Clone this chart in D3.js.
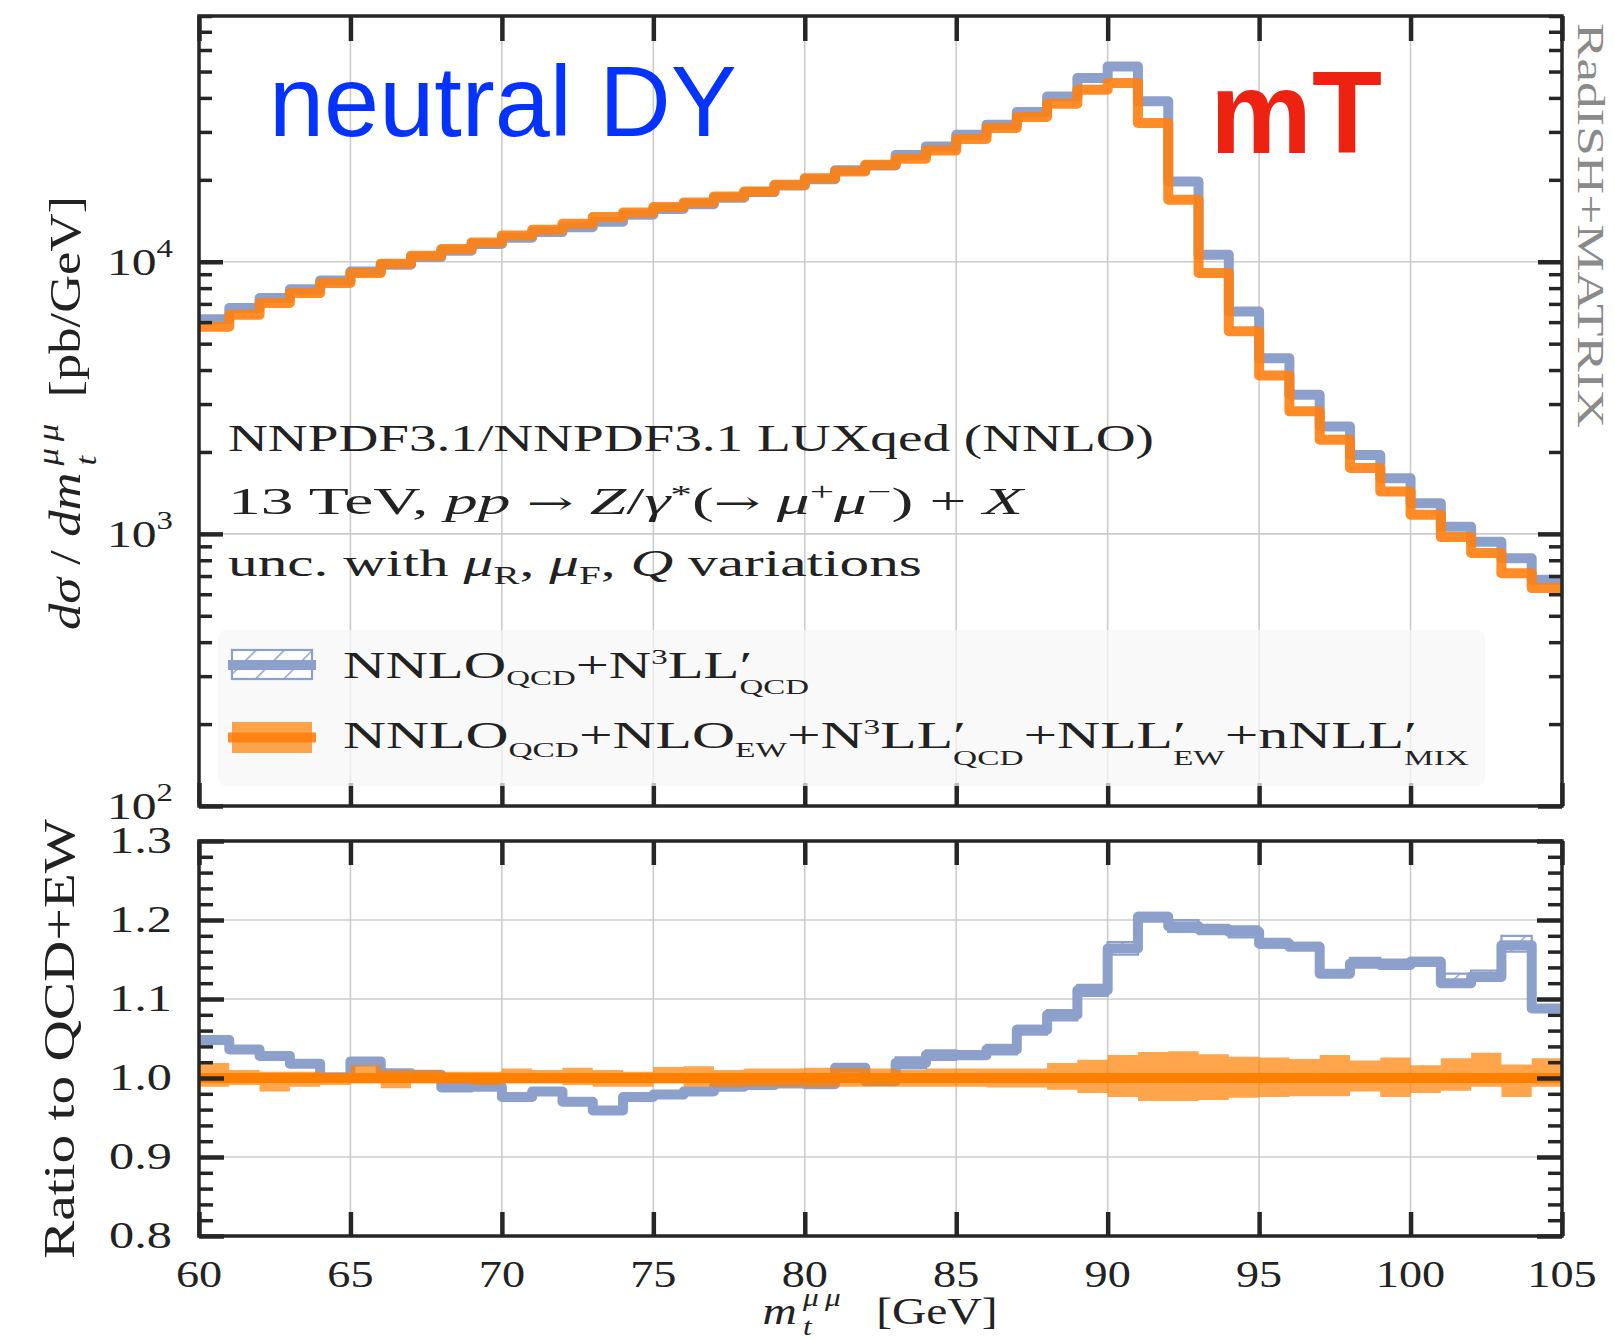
<!DOCTYPE html>
<html><head><meta charset="utf-8">
<script src="https://cdn.jsdelivr.net/npm/d3@7"></script>
<style>body{margin:0;background:#fff} svg{display:block} text{white-space:pre}</style>
</head><body><svg id="c" width="1615" height="1340"></svg>
<script>
// ---------------- data ----------------
const massEdges = [60,61,62,63,64,65,66,67,68,69,70,71,72,73,74,75,76,77,78,79,80,81,82,83,84,85,86,87,88,89,90,91,92,93,94,95,96,97,98,99,100,101,102,103,104,105];
// d sigma / d m_t  [pb/GeV], NNLO_QCD+N3LL'_QCD
const sigmaQCD = [6150,6760,7360,7930,8540,9200,9750,10400,10970,11620,12250,12850,13390,14020,14880,15640,16260,17200,18030,19070,20100,21670,22600,24700,26540,29300,31900,35500,40500,47350,52200,38900,19700,10600,6570,4420,3245,2480,1950,1600,1295,1062,936,813,678];
// QCD+EW
const sigmaQCDEW = [5770,6380,7050,7670,8350,9090,9840,10530,11130,11780,12500,13110,13800,14600,15180,15880,16510,17370,18120,19170,20290,21460,22700,23900,25650,28250,31040,34060,38100,42850,45360,32380,16900,9090,5550,3820,2820,2220,1745,1432,1175,973,850,717,632];
// ratio to QCD+EW
const ratioQCD = [1.048,1.036,1.028,1.018,1.001,1.021,1.006,1.004,0.988,0.989,0.976,0.983,0.970,0.959,0.976,0.979,0.983,0.989,0.991,0.993,0.992,1.013,0.996,1.019,1.029,1.029,1.036,1.061,1.080,1.111,1.164,1.204,1.192,1.188,1.185,1.170,1.166,1.132,1.145,1.143,1.147,1.120,1.128,1.168,1.088];
const ratioQCDLo = [1.046,1.034,1.026,1.016,0.999,1.019,1.004,1.002,0.986,0.987,0.974,0.981,0.968,0.957,0.974,0.977,0.981,0.987,0.989,0.991,0.990,1.011,0.994,1.012,1.023,1.024,1.030,1.055,1.073,1.104,1.156,1.198,1.185,1.182,1.178,1.165,1.162,1.130,1.140,1.140,1.142,1.118,1.124,1.160,1.085];
const ratioQCDHi = [1.050,1.038,1.030,1.020,1.003,1.023,1.008,1.006,0.990,0.991,0.978,0.985,0.972,0.961,0.978,0.981,0.985,0.991,0.993,0.995,0.994,1.015,0.998,1.026,1.035,1.034,1.042,1.066,1.086,1.118,1.172,1.209,1.200,1.194,1.192,1.176,1.171,1.135,1.152,1.150,1.152,1.132,1.136,1.180,1.092];
const ratioEW = [1,1,1,1,1,1,1,1,1,1,1,1,1,1,1,1,1,1,1,1,1,1,1,1,1,1,1,1,1,1,1,1,1,1,1,1,1,1,1,1,1,1,1,1,1];
const ratioEWHi = [1.019,1.010,1.008,1.008,1.006,1.016,1.010,1.010,1.008,1.008,1.012,1.010,1.013,1.010,1.008,1.014,1.015,1.010,1.012,1.012,1.013,1.013,1.012,1.010,1.012,1.012,1.012,1.012,1.019,1.023,1.029,1.033,1.034,1.030,1.027,1.026,1.024,1.029,1.022,1.026,1.016,1.025,1.032,1.017,1.025];
const ratioEWLo = [0.989,0.991,0.983,0.989,0.991,0.993,0.987,0.993,0.993,0.991,0.993,0.993,0.991,0.989,0.989,0.993,0.989,0.988,0.989,0.989,0.988,0.989,0.989,0.989,0.989,0.989,0.988,0.988,0.985,0.981,0.976,0.971,0.971,0.972,0.975,0.976,0.977,0.977,0.983,0.976,0.981,0.984,0.989,0.976,0.989];
// ticks
const xTicks = [60,65,70,75,80,85,90,95,100,105];
const xTickLabels = ["60","65","70","75","80","85","90","95","100","105"];
const yTopMajor = [100,1000,10000];
const yTopMajorExp = ["2","3","4"];
const yTopMinor = [200,300,400,500,600,700,800,900,2000,3000,4000,5000,6000,7000,8000,9000,20000,30000,40000,50000,60000,70000,80000];
const yRatioMajor = [0.8,0.9,1.0,1.1,1.2,1.3];
const yRatioLabels = ["0.8","0.9","1.0","1.1","1.2","1.3"];
const yRatioMinor = [0.82,0.84,0.86,0.88,0.92,0.94,0.96,0.98,1.02,1.04,1.06,1.08,1.12,1.14,1.16,1.18,1.22,1.24,1.26,1.28];
const yRatioGrid = [0.9,1.0,1.1,1.2];
const xGrid = [65,70,75,80,85,90,95,100];

// ---------------- setup ----------------
const SERIF = "'Liberation Serif','DejaVu Serif',serif";
const SANS = "'Liberation Sans',Arial,sans-serif";
const BLUE = "#8da0cb", ORANGE = "#ff7f0e", ORANGE_R = "#ff7f00", BAND = "#ff7f00";
const FRAME = "#262626", GRID = "#cccccc", TXT = "#222222";
const svg = d3.select('#c');
const L = 199, R = 1562, T1 = 16, B1 = 806, T2 = 841, B2 = 1236;
const x = d3.scaleLinear().domain([60,105]).range([L,R]);
const yT = d3.scaleLog().domain([100,80000]).range([B1,T1]);
const yR = d3.scaleLinear().domain([0.8,1.3]).range([B2,T2]);

const defs = svg.append('defs');
defs.append('clipPath').attr('id','clipTop').append('rect').attr('x',L).attr('y',T1).attr('width',R-L).attr('height',B1-T1);
defs.append('clipPath').attr('id','clipRat').append('rect').attr('x',L).attr('y',T2).attr('width',R-L).attr('height',B2-T2);
function hatch(id, bg){
  const p = defs.append('pattern').attr('id',id).attr('patternUnits','userSpaceOnUse')
    .attr('width',20).attr('height',20).attr('patternTransform','rotate(45)');
  if (bg) p.append('rect').attr('width',20).attr('height',20).attr('fill',bg);
  p.append('line').attr('x1',0).attr('y1',0).attr('x2',0).attr('y2',20).attr('stroke',BLUE).attr('stroke-width',3);
}
hatch('hatchT', null); hatch('hatchW', '#ffffff');

const steps = vals => massEdges.map((e,i)=>({x:e, v: vals[Math.min(i, vals.length-1)]}));
const stepsBand = (lo,hi) => massEdges.map((e,i)=>({x:e, lo: lo[Math.min(i,lo.length-1)], hi: hi[Math.min(i,hi.length-1)]}));

// ---------------- gridlines ----------------
const gTopGrid = svg.append('g');
gTopGrid.selectAll('line.v').data(xGrid).join('line').attr('x1',d=>x(d)).attr('x2',d=>x(d)).attr('y1',T1).attr('y2',B1).attr('stroke',GRID).attr('stroke-width',1.6);
gTopGrid.selectAll('line.h').data([1000,10000]).join('line').attr('class','h').attr('y1',d=>yT(d)).attr('y2',d=>yT(d)).attr('x1',L).attr('x2',R).attr('stroke',GRID).attr('stroke-width',1.6);
const gRGrid = svg.append('g');
gRGrid.selectAll('line.v').data(xGrid).join('line').attr('x1',d=>x(d)).attr('x2',d=>x(d)).attr('y1',T2).attr('y2',B2).attr('stroke',GRID).attr('stroke-width',1.6);
gRGrid.selectAll('line.h').data(yRatioGrid).join('line').attr('class','h').attr('y1',d=>yR(d)).attr('y2',d=>yR(d)).attr('x1',L).attr('x2',R).attr('stroke',GRID).attr('stroke-width',1.6);

// ---------------- top plot lines ----------------
const lineTop = d3.line().x(d=>x(d.x)).y(d=>yT(d.v)).curve(d3.curveStepAfter);
const gTop = svg.append('g').attr('clip-path','url(#clipTop)');
gTop.append('path').attr('d', lineTop(steps(sigmaQCD))).attr('fill','none').attr('stroke',BLUE).attr('stroke-width',10).attr('stroke-linejoin','round');
gTop.append('path').attr('d', lineTop(steps(sigmaQCDEW))).attr('fill','none').attr('stroke',ORANGE).attr('stroke-opacity',0.9).attr('stroke-width',10).attr('stroke-linejoin','round');

// ---------------- ratio plot ----------------
const lineR = d3.line().x(d=>x(d.x)).y(d=>yR(d.v)).curve(d3.curveStepAfter);
const areaR = d3.area().x(d=>x(d.x)).y0(d=>yR(d.lo)).y1(d=>yR(d.hi)).curve(d3.curveStepAfter);
const gR = svg.append('g').attr('clip-path','url(#clipRat)');
gR.append('path').attr('d', lineR(steps(ratioQCD))).attr('fill','none').attr('stroke',BLUE).attr('stroke-width',10).attr('stroke-linejoin','round');
gR.append('path').attr('d', areaR(stepsBand(ratioQCDLo, ratioQCDHi))).attr('fill','url(#hatchT)').attr('stroke',BLUE).attr('stroke-width',2.2);
gR.append('path').attr('d', areaR(stepsBand(ratioEWLo, ratioEWHi))).attr('fill',BAND).attr('fill-opacity',0.7);
gR.append('path').attr('d', lineR(steps(ratioEW))).attr('fill','none').attr('stroke',ORANGE_R).attr('stroke-width',10);

// ---------------- frames & ticks ----------------
function ticks(axisFn, scale, values, size, width, tr){
  const a = axisFn(scale).tickValues(values).tickSize(size).tickFormat('');
  const g = svg.append('g').attr('transform', tr).call(a);
  g.select('.domain').remove();
  g.selectAll('line').attr('stroke',FRAME).attr('stroke-width',width);
  g.selectAll('text').remove();
}
ticks(d3.axisRight, yT, yTopMajor, 24, 4.5, `translate(${L},0)`);
ticks(d3.axisRight, yT, yTopMinor, 13, 3.5, `translate(${L},0)`);
ticks(d3.axisLeft, yT, yTopMajor, 24, 4.5, `translate(${R},0)`);
ticks(d3.axisLeft, yT, yTopMinor, 13, 3.5, `translate(${R},0)`);
ticks(d3.axisBottom, x, xTicks, 25, 4.5, `translate(0,${T1})`);
ticks(d3.axisTop, x, xTicks, 23, 4.5, `translate(0,${B1})`);
ticks(d3.axisRight, yR, yRatioMajor, 25, 4.5, `translate(${L},0)`);
ticks(d3.axisRight, yR, yRatioMinor, 14, 3.5, `translate(${L},0)`);
ticks(d3.axisLeft, yR, yRatioMajor, 25, 4.5, `translate(${R},0)`);
ticks(d3.axisLeft, yR, yRatioMinor, 14, 3.5, `translate(${R},0)`);
ticks(d3.axisBottom, x, xTicks, 24, 4.5, `translate(0,${T2})`);
ticks(d3.axisTop, x, xTicks, 24, 4.5, `translate(0,${B2})`);

svg.append('rect').attr('x',L).attr('y',T1).attr('width',R-L).attr('height',B1-T1).attr('fill','none').attr('stroke',FRAME).attr('stroke-width',3.5);
svg.append('rect').attr('x',L).attr('y',T2).attr('width',R-L).attr('height',B2-T2).attr('fill','none').attr('stroke',FRAME).attr('stroke-width',3.5);

// ---------------- rich text helper ----------------
function rich(o){
  const g = svg.append('g');
  const inner = g.append('g');
  let cx = 0, st = 0, sm = 0;
  o.segs.forEach(s => {
    const fs = o.size*(s.s||1);
    const t = inner.append('text').attr('x', cx).attr('y', -(s.b||0)*o.size)
      .attr('font-size', fs).attr('font-family', s.f||o.family||SERIF).attr('fill', o.color||TXT)
      .attr('xml:space','preserve')
      .style('font-style', s.i?'italic':'normal').style('font-weight', s.w||o.weight||'normal').text(s.t);
    const w = t.node().getComputedTextLength();
    if (s.stack==='first'){ st = cx; sm = w; }
    else if (s.stack==='second'){ cx = st + Math.max(sm, w); }
    else cx += w;
  });
  const total = cx;
  const k = o.width ? o.width/total : (o.sx||1);
  const off = o.anchor==='middle' ? -total*k/2 : o.anchor==='end' ? -total*k : 0;
  inner.attr('transform', `translate(${off},0) scale(${k},${o.ky||1})`);
  g.attr('transform', `translate(${o.x},${o.y}) rotate(${o.rot||0})`);
  return g;
}

// ---------------- tick labels ----------------
xTicks.forEach((v,i)=> rich({x:x(v), y:1287, anchor:'middle', size:37, sx:1.25, segs:[{t:xTickLabels[i]}]}));
yRatioMajor.forEach((v,i)=> rich({x:172, y:yR(v)+12, anchor:'end', size:37, width:63, segs:[{t:yRatioLabels[i]}]}));
yTopMajor.forEach((v,i)=> rich({x:173, y:yT(v)+13, anchor:'end', size:37, width:66, segs:[{t:'10'},{t:yTopMajorExp[i], s:0.66, b:0.48}]}));

// ---------------- axis labels ----------------
rich({x:880, y:1324, anchor:'middle', size:37, width:235, segs:[
  {t:'m', i:true},{t:'\u2009μ\u2009μ', i:true, s:0.66, b:0.5, stack:'first'},{t:'\u2009t', i:true, s:0.66, b:-0.3, stack:'second'},{t:'   [GeV]'}]});
rich({x:80, y:413, rot:-90, anchor:'middle', size:37, ky:1.2, width:434, segs:[
  {t:'dσ', i:true},{t:' / '},{t:'dm', i:true},{t:'\u2009μ\u2009μ', i:true, s:0.66, b:0.5, stack:'first'},{t:'\u2009t', i:true, s:0.66, b:-0.35, stack:'second'},{t:'  [pb/GeV]'}]});
rich({x:74, y:1039, rot:-90, anchor:'middle', size:37, ky:1.18, width:440, segs:[{t:'Ratio to QCD+EW'}]});
rich({x:1578, y:23, rot:90, anchor:'start', size:37, ky:1.0, width:405, color:'#8a8a8a', segs:[{t:'RadISH+MATRIX'}]});

// ---------------- annotations ----------------
rich({x:269, y:136, size:100, width:468, family:SANS, color:'#0433ff', segs:[{t:'neutral DY'}]});
rich({x:1210, y:153, size:117, width:172, family:SANS, weight:'bold', color:'#ee2211', segs:[{t:'mT'}]});
rich({x:228, y:451, size:38, width:926, segs:[{t:'NNPDF3.1/NNPDF3.1 LUXqed (NNLO)'}]});
rich({x:228, y:514, size:38, width:795, segs:[
  {t:'13 TeV, '},{t:'pp', i:true},{t:'\u2005'},{t:'→', f:"'DejaVu Serif',serif", s:0.85},{t:'\u2005'},{t:'Z', i:true},{t:'/'},{t:'γ', i:true},{t:'*', s:0.66, b:0.3},
  {t:'('},{t:'→', f:"'DejaVu Serif',serif", s:0.85},{t:'\u2005'},{t:'μ', i:true},{t:'+', s:0.66, b:0.38},{t:'μ', i:true},{t:'−', s:0.66, b:0.38},{t:') + '},{t:'X', i:true}]});
rich({x:228, y:576, size:38, width:694, segs:[
  {t:'unc. with '},{t:'μ', i:true},{t:'R', s:0.66, b:-0.2},{t:', '},{t:'μ', i:true},{t:'F', s:0.66, b:-0.2},{t:', '},{t:'Q', i:true},{t:' variations'}]});

// ---------------- legend ----------------
svg.append('rect').attr('x',218).attr('y',630).attr('width',1267).attr('height',156).attr('rx',8)
  .attr('fill','rgb(246,246,246)').attr('fill-opacity',0.72);
svg.append('rect').attr('x',232).attr('y',650).attr('width',80).attr('height',29).attr('fill','url(#hatchW)').attr('stroke',BLUE).attr('stroke-width',2.2);
svg.append('line').attr('x1',228).attr('x2',316).attr('y1',665).attr('y2',665).attr('stroke',BLUE).attr('stroke-width',10);
svg.append('rect').attr('x',232).attr('y',722).attr('width',80).attr('height',31).attr('fill',BAND).attr('fill-opacity',0.7);
svg.append('line').attr('x1',228).attr('x2',316).attr('y1',737.5).attr('y2',737.5).attr('stroke',ORANGE).attr('stroke-opacity',0.9).attr('stroke-width',10);
const SUB = 0.56;
rich({x:343, y:678, size:37, width:466, segs:[
  {t:'NNLO'},{t:'QCD', s:SUB, b:-0.2},{t:'+N'},{t:'3', s:SUB, b:0.38},{t:'LL'},{t:'′', stack:'first'},{t:'QCD', s:SUB, b:-0.42, stack:'second'}]});
rich({x:343, y:748, size:37, width:1126, segs:[
  {t:'NNLO'},{t:'QCD', s:SUB, b:-0.24},{t:'+NLO'},{t:'EW', s:SUB, b:-0.24},{t:'+N'},{t:'3', s:SUB, b:0.38},{t:'LL'},
  {t:'′', stack:'first'},{t:'QCD', s:SUB, b:-0.46, stack:'second'},{t:'+NLL'},{t:'′', stack:'first'},{t:'EW', s:SUB, b:-0.46, stack:'second'},
  {t:'+nNLL'},{t:'′', stack:'first'},{t:'MIX', s:SUB, b:-0.46, stack:'second'}]});
</script></body></html>
